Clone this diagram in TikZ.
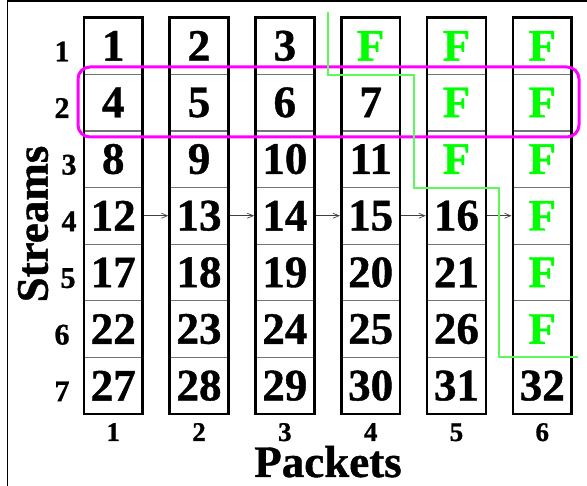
\documentclass[tikz,border=0pt]{standalone}
\usepackage{fontspec}
\setmainfont{Liberation Serif}[BoldFeatures={FakeBold=0.9}]
\usetikzlibrary{arrows.meta}
\definecolor{fgreen}{RGB}{0,255,0}
\definecolor{lgreen}{RGB}{90,250,90}
\definecolor{mag}{RGB}{255,0,255}
\newcommand\FF{\textcolor{fgreen}{F}}
\begin{document}
\begin{tikzpicture}[x=1pt,y=-1pt,
  cellst/.style={minimum width=58.5pt,minimum height=56.64pt,inner sep=0pt,font=\fontsize{45}{45}\selectfont\bfseries},
  boxst/.style={draw=black,line width=2.6pt},
  sepst/.style={draw=black!55,line width=1.2pt},
  lblst/.style={inner sep=0pt,anchor=base,font=\fontsize{30}{30}\selectfont\bfseries},
  clblst/.style={inner sep=0pt,anchor=base,font=\fontsize{27}{27}\selectfont\bfseries},
  arrst/.style={draw=black!75,line width=0.7pt,-{Straight Barb[length=6pt,width=5pt]},shorten >=1.3pt,shorten <=1.3pt},
  magst/.style={draw=mag,line width=3pt,rounded corners=12pt},
  grst/.style={draw=lgreen,line width=1.2pt}]
\useasboundingbox (0,0) rectangle (587,486);
\draw[line width=1.6pt] (7.3,486) -- (7.3,0.8) -- (587,0.8);
% cells
\foreach \r/\row in {1/{1,2,3,\FF,\FF,\FF},2/{4,5,6,7,\FF,\FF},3/{8,9,10,11,\FF,\FF},4/{12,13,14,15,16,\FF},5/{17,18,19,20,21,\FF},6/{22,23,24,25,26,\FF},7/{27,28,29,30,31,32}}{
  \foreach \t [count=\c] in \row {
    \node[cellst] (cell-\r-\c) at ({84+85.8*(\c-1)+29.25},{17.5+56.64*(\r-1)+28.32}) {\t};
  }
}
% separators and boxes
\foreach \c in {1,...,6}{
  \foreach \r in {1,...,6}{
    \draw[sepst] (cell-\r-\c.south west) -- (cell-\r-\c.south east);
  }
  \draw[boxst] (cell-1-\c.north west) rectangle (cell-7-\c.south east);
  \node[clblst] (col-\c) at ({84+85.8*(\c-1)+29.25},441) {\c};
}
% arrows in row 4
\foreach \c [evaluate=\c as \n using int(\c+1)] in {1,...,5}{
  \draw[arrst] (cell-4-\c.east) -- (cell-4-\n.west);
}
% row labels
\foreach \r/\x in {1/62,2/62,3/69,4/69,5/68,6/62,7/62}{
  \node[lblst] (row-\r) at (\x,{17.5+56.64*(\r-1)+28.32+15.5}) {\r};
}
\node[inner sep=0pt,anchor=base,font=\fontsize{45}{45}\selectfont\bfseries] (packets) at (328,477) {Packets};
\node[inner sep=0pt,rotate=90,font=\fontsize{45}{45}\selectfont\bfseries] (streams) at (33,224) {Streams};
% magenta highlight of row 2
\draw[magst] (78,67) rectangle (579,137);
% green boundary
\draw[grst] (328,12) -- (328,75) -- (414,75) -- (414,188) -- (499,188) -- (499,357) -- (578,357);
\end{tikzpicture}
\end{document}
